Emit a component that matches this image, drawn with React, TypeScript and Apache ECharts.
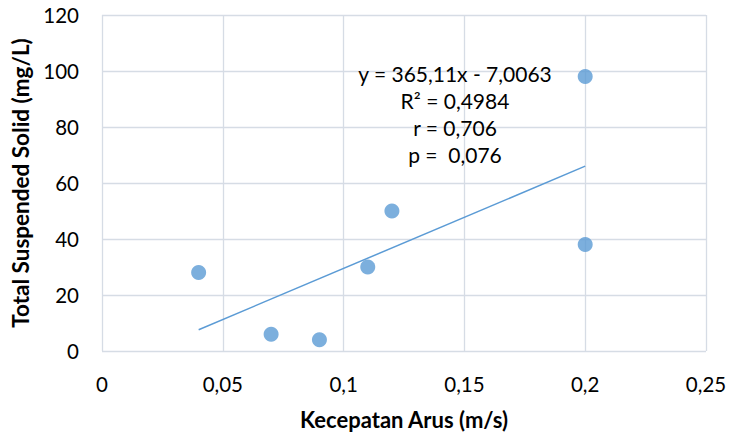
import React, { useEffect, useRef } from "react";
import * as echarts from "echarts";

const xValues = [0.04, 0.07, 0.09, 0.11, 0.12, 0.2, 0.2];
const yValues = [28, 6, 4, 30, 50, 98, 38];
const trendX = [0.04, 0.2];
const slope = 365.11;
const intercept = -7.0063;
const annotationLines = ["y = 365,11x - 7,0063", "R² = 0,4984", "r = 0,706", "p =  0,076"];

const FONT = "Lato";

export default function App() {
  const ref = useRef<HTMLDivElement>(null);
  useEffect(() => {
    if (!ref.current) return;
    const chart = echarts.init(ref.current, undefined, { renderer: "svg" });
    const fmt = (v: number) => String(Number(v.toFixed(4))).replace(".", ",");
    chart.setOption({
      animation: false,
      textStyle: { fontFamily: FONT },
      grid: { left: 102, right: 24, top: 15, bottom: 85 },
      xAxis: {
        type: "value",
        min: 0,
        max: 0.25,
        interval: 0.05,
        name: "Kecepatan Arus (m/s)",
        nameLocation: "middle",
        nameGap: 57,
        nameTextStyle: { fontFamily: FONT, fontSize: 22, fontWeight: "bold", color: "#000" },
        axisLine: { show: false },
        axisTick: { show: false },
        axisLabel: { formatter: fmt, fontFamily: FONT, fontSize: 20.5, color: "#000", margin: 22 },
        splitLine: { show: true, lineStyle: { color: "#d6dce5", width: 1.3 } },
      },
      yAxis: {
        type: "value",
        min: 0,
        max: 120,
        interval: 20,
        name: "Total Suspended Solid (mg/L)",
        nameLocation: "middle",
        nameGap: 68,
        nameTextStyle: { fontFamily: FONT, fontSize: 22.5, fontWeight: "bold", color: "#000" },
        axisLine: { show: false },
        axisTick: { show: false },
        axisLabel: { fontFamily: FONT, fontSize: 20.5, color: "#000", margin: 23 },
        splitLine: { show: true, lineStyle: { color: "#d6dce5", width: 1.3 } },
      },
      series: [
        {
          type: "line",
          data: trendX.map((x) => [x, slope * x + intercept]),
          symbol: "none",
          lineStyle: { color: "#5b9bd5", width: 1.5 },
          z: 2,
        },
        {
          type: "scatter",
          data: xValues.map((x, i) => [x, yValues[i]]),
          symbolSize: 15,
          itemStyle: { color: "#5b9bd5" },
          z: 3,
        },
      ],
      graphic: annotationLines.map((t, i) => ({
        type: "text",
        x: 455,
        y: 73 + i * 27.3,
        style: {
          text: t,
          fontFamily: FONT,
          fontSize: 21,
          fill: "#000",
          align: "center",
          verticalAlign: "middle",
        },
        z: 10,
      })),
    });
    return () => chart.dispose();
  }, []);
  return <div ref={ref} style={{ width: 730, height: 436, position: "absolute", left: 0, top: 0 }} />;
}
